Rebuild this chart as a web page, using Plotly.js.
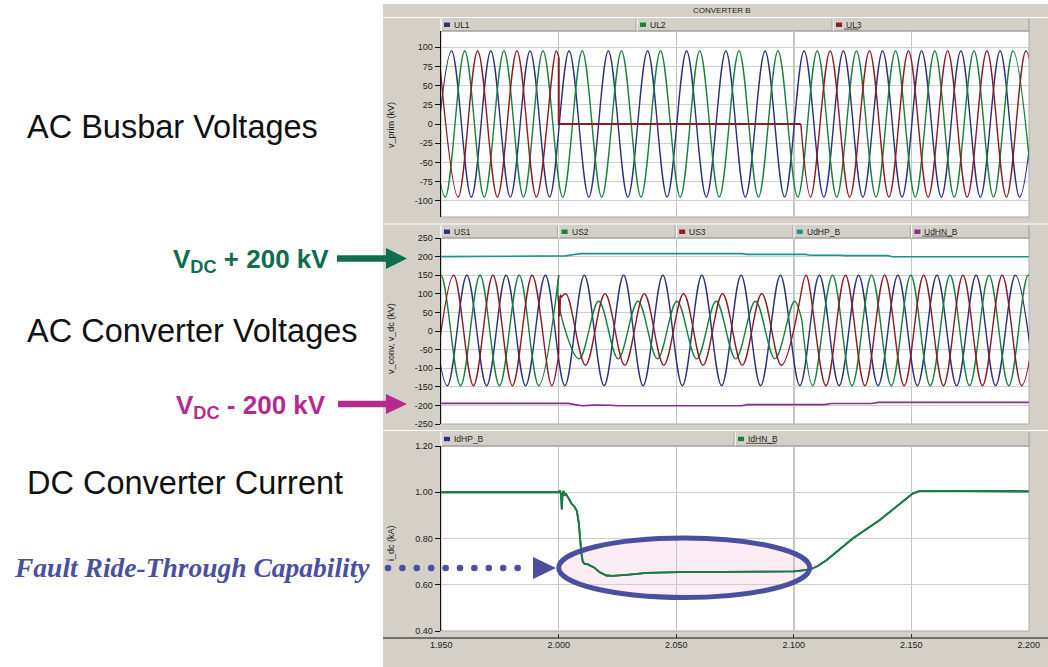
<!DOCTYPE html>
<html><head><meta charset="utf-8">
<script src="https://cdn.plot.ly/plotly-3.0.1.min.js"></script>
<style>html,body{margin:0;padding:0;background:#fff;}#chart{width:1048px;height:667px;}</style>
</head><body><div id="chart"></div>
<script>
// ---------------- DATA ----------------
// time axis
var xRange = [1.9499, 2.2001];
var xTickVals = [1.95, 2.0, 2.05, 2.1, 2.15, 2.2];
var xTickText = ['1.950', '2.000', '2.050', '2.100', '2.150', '2.200'];

// top panel: AC busbar voltages (extrema of the waveforms, kV)
var UL1_t = [1.9461,1.9544,1.9628,1.9711,1.9794,1.9878,1.9961,2.0044,2.0128,2.0211,2.0294,2.0378,2.0461,2.0544,2.0628,2.0711,2.0794,2.0878,2.0961,2.1044,2.1128,2.1211,2.1294,2.1378,2.1461,2.1544,2.1628,2.1711,2.1794,2.1878,2.1961,2.2044];
var UL1_v = [-95,95,-95,95,-95,95,-95,95, -95,95,-95,95,-95,95,-95,95, -95,95,-95,95,-95,95,-95,95, -95,95,-95,95,-95,95,-95,95];
var UL2_t = [1.9433,1.9517,1.9600,1.9683,1.9767,1.9850,1.9933,2.0017,2.0100,2.0183,2.0267,2.0350,2.0433,2.0517,2.0600,2.0683,2.0767,2.0850,2.0933,2.1017,2.1100,2.1183,2.1267,2.1350,2.1433,2.1517,2.1600,2.1683,2.1767,2.1850,2.1933,2.2017];
var UL2_v = [95,-95,95,-95,95,-95,95,-95, 95,-95,95,-95,95,-95,95,-95, 95,-95,95,-95,95,-95,95,-95, 95,-95,95,-95,95,-95,95,-95];
var UL3_pre_t = [1.9489,1.9572,1.9655,1.9739,1.9822,1.9905,1.9989,2.0000];
var UL3_pre_v = [95,-95,95,-95,95,-95,95,87];
var UL3_fault_t = [2.0000,2.0000,2.1030];
var UL3_fault_v = [87,0,0];
var UL3_post_t = [2.1030,2.1072,2.1155,2.1238,2.1322,2.1405,2.1488,2.1572,2.1655,2.1738,2.1822,2.1905,2.1988,2.2072];
var UL3_post_v = [0,-95,95,-95,95,-95,95,-95,95,-95,95,-95,95,-95];

// middle panel: AC converter voltages + DC pole voltages (kV)
var US1_t = [1.9443,1.9526,1.9609,1.9693,1.9776,1.9859,1.9943,2.0026,2.0109,2.0193,2.0276,2.0359,2.0443,2.0526,2.0609,2.0693,2.0776,2.0859,2.0943,2.1026,2.1109,2.1193,2.1276,2.1359,2.1443,2.1526,2.1609,2.1693,2.1776,2.1859,2.1943,2.2026];
var US1_v = [150,-147,150,-147,150,-147,150,-147, 150,-147,150,-147,150,-147,150,-147, 150,-147,150,-147,150,-147,150,-147, 150,-147,150,-147,150,-147,150,-147];
var US2_pre_t = [1.9415,1.9498,1.9582,1.9665,1.9748,1.9832,1.9915,2.0000];
var US2_pre_v = [-147,150,-147,150,-147,150,-147,150];
var US2_fault_t = [2.0000,2.0000,2.0087,2.0170,2.0253,2.0337,2.0420,2.0503,2.0587,2.0670,2.0753,2.0837,2.0920,2.1003,2.1035];
var US2_fault_v = [150,72,-75,80,-75,80,-75,80,-75,80,-75,80,-75,80,27];
var US2_post_t = [2.1035,2.1081,2.1165,2.1248,2.1331,2.1415,2.1498,2.1581,2.1665,2.1748,2.1831,2.1915,2.1998,2.2081];
var US2_post_v = [27,-147,150,-147,150,-147,150,-147,150,-147,150,-147,150,-147];
var US3_pre_t = [1.9470,1.9553,1.9637,1.9720,1.9803,1.9887,1.9970,2.0000];
var US3_pre_v = [-147,150,-147,150,-147,150,-147,-62];
var US3_jump_t = [2.0000,2.0000,2.0004,2.0008,2.0011];
var US3_jump_v = [-62,95,40,98,90];
var US3_fault_t = [2.0011,2.0031,2.0114,2.0197,2.0281,2.0364,2.0447,2.0531,2.0614,2.0697,2.0781,2.0864,2.0947,2.1029];
var US3_fault_v = [90,100,-92,100,-92,100,-92,100,-92,100,-92,100,-92,94];
var US3_post_t = [2.1029,2.1053,2.1137,2.1220,2.1303,2.1387,2.1470,2.1553,2.1637,2.1720,2.1803,2.1887,2.1970,2.2053];
var US3_post_v = [94,150,-147,150,-147,150,-147,150,-147,150,-147,150,-147,150];
var UdHP_t = [1.95,2.0,2.003,2.006,2.009,2.078,2.080,2.105,2.107,2.120,2.122,2.140,2.142,2.2];
var UdHP_v = [200,200,202,205,208,208,206,206,203.5,203.5,202.5,202.5,199.5,199.5];
var UdHN_t = [1.95,2.004,2.007,2.010,2.013,2.016,2.022,2.025,2.078,2.080,2.113,2.116,2.133,2.136,2.2];
var UdHN_v = [-194.5,-194.5,-198,-201,-200,-199,-199.5,-201,-201,-198,-198,-195,-195,-192,-192];

// bottom panel: DC converter current (kA)
var Id_t = [1.95,2.0,2.0005,2.0010,2.0013,2.0016,2.0020,2.0025,2.0030,2.0040,2.0055,2.0065,2.0077,2.0085,2.0090,2.0096,2.0102,2.0110,2.0124,2.0150,2.0173,2.0203,2.0230,2.0260,2.0300,2.0375,2.0515,2.0700,2.0900,2.1000,2.1068,2.1100,2.1139,2.1251,2.1366,2.1506,2.1536,2.1700,2.1850,2.2000];
var IdHN_v = [1.0,1.0,1.008,0.99,0.926,0.99,1.005,0.985,0.995,0.975,0.95,0.94,0.92,0.87,0.80,0.74,0.70,0.69,0.688,0.675,0.655,0.64,0.638,0.64,0.644,0.651,0.655,0.656,0.657,0.658,0.665,0.68,0.706,0.80,0.88,0.994,1.006,1.005,1.004,1.004];
var IdHP_v = IdHN_v;

// axis ticks
var y1Ticks = [-100,-75,-50,-25,0,25,50,75,100];
var y1Text = ['-100','-75','-50','-25','0','25','50','75','100'];
var y2Ticks = [-250,-200,-150,-100,-50,0,50,100,150,200,250];
var y2Text = ['-250','-200','-150','-100','-50','0','50','100','150','200','250'];
var y3Ticks = [0.4,0.6,0.8,1.0,1.2];
var y3Text = ['0.40','0.60','0.80','1.00','1.20'];

// legend labels
var legTop = ['UL1','UL2','UL3'];
var legMid = ['US1','US2','US3','UdHP_B','UdHN_B'];
var legBot = ['IdHP_B','IdHN_B'];

// ---------------- STYLE ----------------
var W = 1048, H = 667;
function px(x){ return x / W; }
function py(y){ return 1 - y / H; }
var C_BLUE = '#29317d', C_GREEN = '#17803a', C_RED = '#8c1b24', C_TEAL = '#1a9292', C_PURP = '#8b2c8f';
var GREY = '#d4d0c8';
var FONT = 'Liberation Sans, Arial, sans-serif';

function tr(x, y, xa, ya, color, width, shape){
  return {x:x, y:y, xaxis:xa, yaxis:ya, type:'scatter', mode:'lines',
    line:{color:color, width:width, shape:shape||'spline'}, showlegend:false, hoverinfo:'skip'};
}
var data = [
  tr(UL1_t, UL1_v, 'x', 'y', C_BLUE, 1.4),
  tr(UL2_t, UL2_v, 'x', 'y', C_GREEN, 1.4),
  tr(UL3_pre_t, UL3_pre_v, 'x', 'y', C_RED, 1.4),
  tr(UL3_fault_t, UL3_fault_v, 'x', 'y', C_RED, 2, 'linear'),
  tr(UL3_post_t, UL3_post_v, 'x', 'y', C_RED, 1.4),
  tr(US1_t, US1_v, 'x2', 'y2', C_BLUE, 1.4),
  tr(US2_pre_t, US2_pre_v, 'x2', 'y2', C_GREEN, 1.4),
  tr(US2_fault_t, US2_fault_v, 'x2', 'y2', C_GREEN, 1.4),
  tr(US2_post_t, US2_post_v, 'x2', 'y2', C_GREEN, 1.4),
  tr(US3_pre_t, US3_pre_v, 'x2', 'y2', C_RED, 1.4),
  tr(US3_jump_t, US3_jump_v, 'x2', 'y2', C_RED, 1.4, 'linear'),
  tr(US3_fault_t, US3_fault_v, 'x2', 'y2', C_RED, 1.4),
  tr(US3_post_t, US3_post_v, 'x2', 'y2', C_RED, 1.4),
  tr(UdHP_t, UdHP_v, 'x2', 'y2', C_TEAL, 1.6, 'linear'),
  tr(UdHN_t, UdHN_v, 'x2', 'y2', C_PURP, 1.6, 'linear'),
  tr(Id_t, IdHP_v, 'x3', 'y3', C_BLUE, 1.8, 'linear'),
  tr(Id_t, IdHN_v, 'x3', 'y3', C_GREEN, 1.8, 'linear')
];

function xax(anchor, labels){
  var a = {domain:[px(441), px(1029)], range:xRange, anchor:anchor, showgrid:true,
    gridcolor:'#c4c4c4', gridwidth:1.5, zeroline:false, showline:false,
    tickmode:'array', tickvals:xTickVals, ticktext:xTickText, fixedrange:true};
  if(labels){
    a.showticklabels = true; a.ticks = 'inside'; a.ticklen = 4; a.tickcolor = '#333';
    a.tickfont = {family:FONT, size:9, color:'#222'};
    a.anchor = 'free'; a.position = py(638);
  } else { a.showticklabels = false; a.ticks = ''; }
  return a;
}
function yax(dom, range, tv, tt){
  return {domain:dom, range:range, anchor:'x', tickmode:'array', tickvals:tv, ticktext:tt,
    showgrid:true, gridcolor:'#cfcfcf', gridwidth:1, zeroline:false, showline:true,
    linecolor:'#111', linewidth:1.5, ticks:'outside', ticklen:5, tickcolor:'#111',
    tickfont:{family:FONT, size:9, color:'#222'}, fixedrange:true};
}
var ya1 = yax([py(217), py(31)], [-121, 121], y1Ticks, y1Text); ya1.anchor = 'x';
var ya2 = yax([py(424), py(238)], [-250, 250], y2Ticks, y2Text); ya2.anchor = 'x2';
var ya3 = yax([py(631), py(446)], [0.4, 1.2], y3Ticks, y3Text); ya3.anchor = 'x3';

// ---------------- SHAPES ----------------
var shapes = [];
function rectPx(x0, y0, x1, y1, fill, lc, lw, layer){
  return {type:'rect', xref:'paper', yref:'paper', x0:px(x0), x1:px(x1), y0:py(y1), y1:py(y0),
    fillcolor:fill, line:{color:lc||fill, width:lw||0}, layer:layer||'below'};
}
function linePx(x0, y0, x1, y1, color, width, layer){
  return {type:'line', xref:'paper', yref:'paper', x0:px(x0), x1:px(x1), y0:py(y0), y1:py(y1),
    line:{color:color, width:width}, layer:layer||'below'};
}
function triPx(pts, color){
  var p = 'M' + pts.map(function(q){ return px(q[0]) + ',' + py(q[1]); }).join(' L') + ' Z';
  return {type:'path', xref:'paper', yref:'paper', path:p, fillcolor:color, line:{color:color, width:0}, layer:'above'};
}
// grey window frame
shapes.push(rectPx(383, 4, 1048, 667, GREY));
// white plotting areas
shapes.push(rectPx(441, 31, 1029, 217, '#ffffff', '#a9a9a9', 1));
shapes.push(rectPx(441, 238, 1029, 424, '#ffffff', '#a9a9a9', 1));
shapes.push(rectPx(441, 446, 1029, 631, '#ffffff', '#a9a9a9', 1));
// separators
[17.5, 224, 430.5].forEach(function(y){ shapes.push(linePx(383, y, 1048, y, '#ffffff', 1.2)); });
// legend header bars
var bars = [
  {y0:18.5, y1:31, labels:legTop, colors:[C_BLUE, C_GREEN, C_RED]},
  {y0:225.5, y1:238, labels:legMid, colors:[C_BLUE, C_GREEN, C_RED, C_TEAL, C_PURP]},
  {y0:432, y1:446, labels:legBot, colors:[C_BLUE, C_GREEN]}
];
var annotations = [];
bars.forEach(function(b){
  var n = b.labels.length, seg = (1029 - 441) / n;
  shapes.push(linePx(441, b.y1, 1029, b.y1, '#9c9c9c', 1));
  shapes.push(linePx(1029, b.y0, 1029, b.y1, '#9c9c9c', 1));
  for (var i = 0; i < n; i++){
    var s = 441 + i * seg, yc = (b.y0 + b.y1) / 2;
    shapes.push(linePx(s, b.y0, s, b.y1, '#ffffff', 1.2));
    if (i > 0) shapes.push(linePx(s - 1, b.y0, s - 1, b.y1, '#a8a8a8', 1));
    shapes.push(rectPx(s + 3, yc - 2.2, s + 9, yc + 2.2, b.colors[i]));
    annotations.push({xref:'paper', yref:'paper', x:px(s + 11), y:py(yc), xanchor:'left', yanchor:'middle',
      text:b.labels[i], showarrow:false, font:{family:FONT, size:8.5, color:'#222'}});
    if (i === n - 1) {
      // the last entry of each header is underlined (selected)
      var wLab = b.labels[i].length * 5.05;
      shapes.push(linePx(s + 11, yc + 4.3, s + 11 + wLab, yc + 4.3, '#333', 0.8));
    }
  }
});
// bottom axis line
shapes.push(linePx(383, 638, 1048, 638, '#6f6f6f', 2));
// highlight ellipse (fault ride-through)
shapes.push({type:'circle', xref:'x3', yref:'y3', x0:2.0, x1:2.1068, y0:0.545, y1:0.802,
  fillcolor:'rgba(240,170,205,0.22)', line:{width:0}, layer:'below'});
shapes.push({type:'circle', xref:'x3', yref:'y3', x0:2.0, x1:2.1068, y0:0.545, y1:0.802,
  fillcolor:'rgba(0,0,0,0)', line:{color:'#4b4f9f', width:5}, layer:'above'});
// V_DC arrows
var C_ARG = '#0f6c4f', C_ARM = '#b62a8e', C_FRT = '#4a4f9e';
shapes.push(linePx(337, 258.5, 392, 258.5, C_ARG, 6.5, 'above'));
shapes.push(triPx([[386, 248], [407, 258.5], [386, 269]], C_ARG));
shapes.push(linePx(338, 404, 392, 404, C_ARM, 6.5, 'above'));
shapes.push(triPx([[386, 394], [407, 404], [386, 414]], C_ARM));
// dotted arrow to ellipse
for (var k = 0; k < 10; k++){
  var cx = 388 + k * 14.4;
  shapes.push({type:'circle', xref:'paper', yref:'paper', x0:px(cx - 3.3), x1:px(cx + 3.3),
    y0:py(568 + 3.3), y1:py(568 - 3.3), fillcolor:C_FRT, line:{width:0}, layer:'above'});
}
shapes.push(triPx([[533, 557], [556, 568], [533, 579]], C_FRT));

// ---------------- TEXT ----------------
function ann(x, y, text, size, color, xanchor, extra){
  var a = {xref:'paper', yref:'paper', x:px(x), y:py(y), text:text, showarrow:false,
    xanchor:xanchor||'left', yanchor:'middle', font:{family:FONT, size:size, color:color}};
  if (extra) for (var k in extra) a[k] = extra[k];
  return a;
}
annotations.push(ann(722, 10.5, 'CONVERTER B', 8, '#222', 'center'));
annotations.push(ann(391, 125, 'v_prim (kV)', 9, '#222', 'center', {textangle:-90}));
annotations.push(ann(391, 339, 'v_conv, v_dc (kV)', 9, '#222', 'center', {textangle:-90}));
annotations.push(ann(391, 543, 'i_dc (kA)', 9, '#222', 'center', {textangle:-90}));
annotations.push(ann(25, 127, 'AC Busbar Voltages', 32.5, '#111', 'left'));
annotations.push(ann(25, 331, 'AC Converter Voltages', 32.5, '#111', 'left'));
annotations.push(ann(25, 483, 'DC Converter Current', 32.5, '#111', 'left'));
annotations.push(ann(331, 260, '<b>V<sub>DC</sub> + 200 kV</b>', 26, C_ARG, 'right'));
annotations.push(ann(328, 406, '<b>V<sub>DC</sub> - 200 kV</b>', 26, C_ARM, 'right'));
annotations.push(ann(12, 567, '<b><i>Fault Ride-Through Capability</i></b>', 27.5, C_FRT, 'left',
  {font:{family:'Liberation Serif, Times New Roman, serif', size:27.5, color:C_FRT}}));

var layout = {
  width:W, height:H, autosize:false, margin:{l:0, r:0, t:0, b:0},
  paper_bgcolor:'#ffffff', plot_bgcolor:'#ffffff', showlegend:false,
  xaxis:xax('y', false), xaxis2:xax('y2', false), xaxis3:xax('y3', true),
  yaxis:ya1, yaxis2:ya2, yaxis3:ya3,
  shapes:shapes, annotations:annotations
};
Plotly.newPlot('chart', data, layout, {displayModeBar:false, staticPlot:true});
</script></body></html>
